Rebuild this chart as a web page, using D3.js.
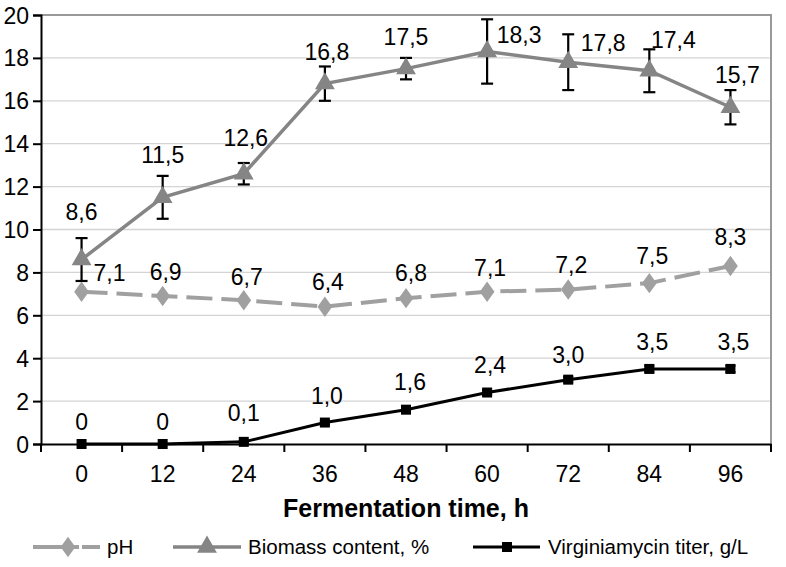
<!DOCTYPE html>
<html><head><meta charset="utf-8">
<script src="https://cdn.jsdelivr.net/npm/d3@7"></script>
<style>body{margin:0;background:#fff}svg{display:block;font-family:"Liberation Sans",Arial,sans-serif}</style>
</head><body><svg id="c" width="786" height="567"></svg>
<script>
const hours = [0, 12, 24, 36, 48, 60, 72, 84, 96];
const phValues = [7.1, 6.9, 6.7, 6.4, 6.8, 7.1, 7.2, 7.5, 8.3];
const biomassValues = [8.6, 11.5, 12.6, 16.8, 17.5, 18.3, 17.8, 17.4, 15.7];
const biomassErrors = [1.0, 1.0, 0.5, 0.8, 0.5, 1.5, 1.3, 1.0, 0.8];
const titerValues = [0, 0, 0.1, 1.0, 1.6, 2.4, 3.0, 3.5, 3.5];
const titerErrors = [0, 0, 0.05, 0.08, 0.1, 0.1, 0.12, 0.15, 0.15];
const yTicks = [0, 2, 4, 6, 8, 10, 12, 14, 16, 18, 20];
const xTitle = "Fermentation time, h";
const legendNames = ["pH", "Biomass content, %", "Virginiamycin titer, g/L"];

// label nudges (px) relative to marker
const bioLabelDx = [0, 0, 2, 2, 0, 32, 35, 24, 7];
const bioLabelDy = [-48, -42, -36, -32, -32, -17, -19, -31, -32];
const phLabelDx = [28, 3, 3, 3, 5, 3, 3, 3, 0];
const phLabelDy = [-19, -24, -23, -25, -25, -24, -25, -27, -29];
const tiLabelDx = [0, 0, 0, 2, 4, 3, 0, 3, 3];
const tiLabelDy = [-22, -22, -29, -27, -28, -28, -25, -27, -27];

const fmt = v => v === 0 ? "0" : v.toFixed(1).replace(".", ",");

const svg = d3.select("#c");
const L = 41, R = 771, T = 15, B = 444;
const x = d3.scaleBand().domain(hours).range([L, R]);
const cx = h => x(h) + x.bandwidth() / 2;
const y = d3.scaleLinear().domain([0, 20]).range([B, T]);

// gridlines
svg.append("g").selectAll("line").data(yTicks.filter(t => t > 0 && t < 20)).join("line")
  .attr("x1", L).attr("x2", R).attr("y1", d => y(d)).attr("y2", d => y(d))
  .attr("stroke", "#d4d4d4").attr("stroke-width", 1.3);
// frame top/right
svg.append("path").attr("d", `M${L},${T}H${R}V${B}`).attr("fill", "none")
  .attr("stroke", "#999").attr("stroke-width", 2);

// axes
const yAxis = svg.append("g").attr("transform", `translate(${L},0)`)
  .call(d3.axisLeft(y).tickValues(yTicks).tickSize(8).tickPadding(4).tickFormat(d3.format("d")));
yAxis.select(".domain").attr("stroke", "#000").attr("stroke-width", 2);
yAxis.selectAll(".tick line").attr("stroke", "#000").attr("stroke-width", 2);
yAxis.selectAll("text").attr("font-size", 23).attr("fill", "#000").attr("dy", "0.35em");

const xAxis = svg.append("g").attr("transform", `translate(0,${B})`)
  .call(d3.axisBottom(x).tickSize(0).tickPadding(22));
xAxis.select(".domain").attr("stroke", "#000").attr("stroke-width", 2);
xAxis.selectAll("text").attr("font-size", 23).attr("fill", "#000");
// x ticks at band boundaries
const bounds = hours.map(h => x(h)).concat([R]);
svg.append("g").selectAll("line").data(bounds).join("line")
  .attr("x1", d => d).attr("x2", d => d).attr("y1", B).attr("y2", B + 8)
  .attr("stroke", "#000").attr("stroke-width", 2);

svg.append("text").attr("x", (L + R) / 2).attr("y", 517).attr("text-anchor", "middle")
  .attr("font-size", 25).attr("font-weight", "bold").text(xTitle);

const line = d3.line().x((d, i) => cx(hours[i])).y(d => y(d));

// error bars
function errBars(vals, errs, cap) {
  const g = svg.append("g").attr("stroke", "#000").attr("stroke-width", 2.2);
  vals.forEach((v, i) => {
    const e = errs[i]; if (!e) return;
    const X = cx(hours[i]);
    g.append("line").attr("x1", X).attr("x2", X).attr("y1", y(v + e)).attr("y2", y(v - e));
    g.append("line").attr("x1", X - cap).attr("x2", X + cap).attr("y1", y(v + e)).attr("y2", y(v + e));
    g.append("line").attr("x1", X - cap).attr("x2", X + cap).attr("y1", y(v - e)).attr("y2", y(v - e));
  });
}

// pH
svg.append("path").datum(phValues).attr("d", line).attr("fill", "none")
  .attr("stroke", "#a0a0a0").attr("stroke-width", 4).attr("stroke-dasharray", "26,9");
const diamond = d3.symbol().type(d3.symbolDiamond).size(120);
svg.append("g").selectAll("path").data(phValues).join("path").attr("d", diamond)
  .attr("transform", (d, i) => `translate(${cx(hours[i])},${y(d)}) scale(1.25,1)`).attr("fill", "#a0a0a0");

// biomass
svg.append("path").datum(biomassValues).attr("d", line).attr("fill", "none")
  .attr("stroke", "#858585").attr("stroke-width", 3.5);
errBars(biomassValues, biomassErrors, 6);
const tri = d3.symbol().type(d3.symbolTriangle).size(170);
svg.append("g").selectAll("path").data(biomassValues).join("path").attr("d", tri)
  .attr("transform", (d, i) => `translate(${cx(hours[i])},${y(d)})`).attr("fill", "#858585");

// titer
svg.append("path").datum(titerValues).attr("d", line).attr("fill", "none")
  .attr("stroke", "#000").attr("stroke-width", 3);
errBars(titerValues, titerErrors, 5);
svg.append("g").selectAll("rect").data(titerValues).join("rect")
  .attr("x", (d, i) => cx(hours[i]) - 5).attr("y", d => y(d) - 5)
  .attr("width", 10).attr("height", 10).attr("fill", "#000");

// labels
function labels(vals, dx, dy) {
  svg.append("g").selectAll("text").data(vals).join("text")
    .attr("x", (d, i) => cx(hours[i]) + dx[i]).attr("y", (d, i) => y(d) + dy[i])
    .attr("dy", "0.35em").attr("text-anchor", "middle").attr("font-size", 23).attr("fill", "#000")
    .text(d => fmt(d));
}
labels(biomassValues, bioLabelDx, bioLabelDy);
labels(phValues, phLabelDx, phLabelDy);
labels(titerValues, tiLabelDx, tiLabelDy);

// legend
const ly = 547;
const lg = svg.append("g");
const legendX = [33, 173, 473];
// pH
lg.append("line").attr("x1", legendX[0]).attr("x2", legendX[0] + 46).attr("y1", ly).attr("y2", ly)
  .attr("stroke", "#a0a0a0").attr("stroke-width", 4);
lg.append("line").attr("x1", legendX[0] + 49).attr("x2", legendX[0] + 67).attr("y1", ly).attr("y2", ly)
  .attr("stroke", "#a0a0a0").attr("stroke-width", 4);
lg.append("path").attr("d", diamond).attr("transform", `translate(${legendX[0] + 35},${ly}) scale(1.25,1)`).attr("fill", "#a0a0a0");
// biomass
lg.append("line").attr("x1", legendX[1]).attr("x2", legendX[1] + 68).attr("y1", ly).attr("y2", ly)
  .attr("stroke", "#858585").attr("stroke-width", 3.5);
lg.append("path").attr("d", tri).attr("transform", `translate(${legendX[1] + 34},${ly})`).attr("fill", "#858585");
// titer
lg.append("line").attr("x1", legendX[2]).attr("x2", legendX[2] + 67).attr("y1", ly).attr("y2", ly)
  .attr("stroke", "#000").attr("stroke-width", 3);
lg.append("rect").attr("x", legendX[2] + 29).attr("y", ly - 5).attr("width", 10).attr("height", 10).attr("fill", "#000");
lg.selectAll("text.lt").data(legendNames).join("text").attr("class", "lt")
  .attr("x", (d, i) => legendX[i] + [74, 75, 75][i]).attr("y", ly).attr("dy", "0.35em")
  .attr("font-size", 20.5).attr("fill", "#000").text(d => d);
</script></body></html>
